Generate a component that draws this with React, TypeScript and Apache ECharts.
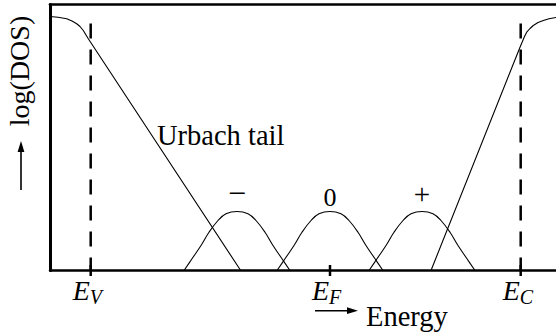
import React, { useEffect, useRef } from "react";
import * as echarts from "echarts";

// Energy axis in arbitrary units (0..506), log(DOS) axis in arbitrary units (0..266)
const energyMin = 0;
const energyMax = 506;
const logDosMin = 0;
const logDosMax = 266;

// Valence-band edge with its Urbach tail
const valenceEnergy = [0, 8, 16.7, 22, 26.7, 30, 33.3, 36, 38.3, 190.7];
const valenceLogDos = [254, 253.2, 251.7, 249.5, 246.7, 244, 240, 235.5, 231.7, 0];

// Conduction-band edge
const conductionEnergy = [381, 470, 472, 474.5, 476.7, 480, 483.3, 488, 493.3, 499, 506];
const conductionLogDos = [0, 223.3, 228, 234, 238.3, 242, 245, 248, 250, 251.7, 253];

// Defect levels in the gap: negative, neutral and positive charge states
const negEnergy = [134, 142, 151, 159, 168, 176, 187, 198, 206, 215, 223, 232, 240];
const negLogDos = [0, 11.7, 25, 38.3, 50, 56.7, 59, 56.7, 50, 38.3, 25, 11.7, 0];
const neutralEnergy = [227, 235, 244, 252, 261, 269, 280, 291, 299, 308, 316, 325, 333];
const neutralLogDos = [0, 11.7, 25, 38.3, 50, 56.7, 59, 56.7, 50, 38.3, 25, 11.7, 0];
const posEnergy = [319, 327, 336, 344, 353, 361, 372, 383, 391, 400, 408, 417, 425];
const posLogDos = [0, 11.7, 25, 38.3, 50, 56.7, 59, 56.7, 50, 38.3, 25, 11.7, 0];
const chargeLabels = ["\u2212", "0", "+"];

// Reference energies E_V, E_F, E_C
const levelEnergy = [40.7, 280, 470.7];
const levelSubscripts = ["V", "F", "C"];
const levelDashed = [true, false, true];
const levelDashTop = 247;

const SERIF = "Liberation Serif";
const INK = "#000";

function zip(xs: number[], ys: number[]) {
  return xs.map((x, i) => [x, ys[i]]);
}

function peakOf(xs: number[], ys: number[]) {
  const i = ys.indexOf(Math.max(...ys));
  return [xs[i], ys[i]];
}

export default function App() {
  const ref = useRef<HTMLDivElement>(null);

  useEffect(() => {
    if (!ref.current) return;
    const chart = echarts.init(ref.current, undefined, { renderer: "svg" });

    const curveStyle = { color: INK, width: 1.1 };
    const bumps = [
      { e: negEnergy, d: negLogDos },
      { e: neutralEnergy, d: neutralLogDos },
      { e: posEnergy, d: posLogDos },
    ];
    // pixel gap between each peak and the centre of its charge label, and label sizes
    const labelGap = [19, 14.5, 18];
    const labelSize = [32, 26, 29];

    const bumpSeries = bumps.map((b) => ({
      type: "line",
      data: zip(b.e, b.d),
      smooth: 0.4,
      symbol: "none",
      lineStyle: curveStyle,
      silent: true,
    }));

    chart.setOption({
      animation: false,
      backgroundColor: "#fff",
      grid: {
        left: 50,
        right: 0,
        top: 4.5,
        bottom: 64.5,
        containLabel: false,
        outerBoundsMode: "none",
      },
      xAxis: [
        {
          type: "value",
          min: energyMin,
          max: energyMax,
          axisLine: { show: true, onZero: false, lineStyle: { color: INK, width: 2.5 } },
          axisTick: { show: false },
          axisLabel: { show: false },
          splitLine: { show: false },
        },
        {
          type: "value",
          position: "top",
          min: energyMin,
          max: energyMax,
          axisLine: { show: true, onZero: false, lineStyle: { color: INK, width: 2.7 } },
          axisTick: { show: false },
          axisLabel: { show: false },
          splitLine: { show: false },
        },
      ],
      yAxis: {
        type: "value",
        min: logDosMin,
        max: logDosMax,
        axisLine: { show: true, onZero: false, lineStyle: { color: INK, width: 3 } },
        axisTick: { show: false },
        axisLabel: { show: false },
        splitLine: { show: false },
      },
      series: [
        {
          type: "line",
          data: zip(valenceEnergy, valenceLogDos),
          symbol: "none",
          lineStyle: curveStyle,
          silent: true,
        },
        {
          type: "line",
          data: zip(conductionEnergy, conductionLogDos),
          symbol: "none",
          lineStyle: curveStyle,
          silent: true,
        },
        ...bumpSeries,
        {
          // charge-state labels sitting over each defect peak
          type: "custom",
          clip: false,
          silent: true,
          data: bumps.map((b) => peakOf(b.e, b.d)),
          renderItem: (params: any, api: any) => {
            const i = params.dataIndex;
            const p = api.coord([api.value(0), api.value(1)]);
            return {
              type: "text",
              style: {
                text: chargeLabels[i],
                x: p[0],
                y: p[1] - labelGap[i],
                align: "center",
                verticalAlign: "middle",
                fontFamily: SERIF,
                fontSize: labelSize[i],
                fill: INK,
              },
            };
          },
        },
        {
          type: "custom",
          clip: false,
          silent: true,
          data: levelEnergy.map((e, i) => [e, i]),
          renderItem: (params: any, api: any) => {
            const i = params.dataIndex;
            const base = api.coord([api.value(0), 0]);
            const top = api.coord([api.value(0), levelDashTop]);
            const px = base[0];
            const children: any[] = [];
            if (levelDashed[i]) {
              children.push({
                type: "line",
                shape: { x1: px, y1: top[1], x2: px, y2: base[1] },
                style: { stroke: INK, lineWidth: 2.5, lineDash: [15, 11] },
              });
            }
            children.push({
              type: "line",
              shape: { x1: px, y1: base[1] - 5.5, x2: px, y2: base[1] + 5.5 },
              style: { stroke: INK, lineWidth: 2.5 },
            });
            children.push({
              type: "text",
              style: {
                text: "E",
                x: px - 18,
                y: base[1] + 20,
                align: "left",
                verticalAlign: "middle",
                fontFamily: SERIF,
                fontStyle: "italic",
                fontSize: 28,
                fill: INK,
              },
            });
            children.push({
              type: "text",
              style: {
                text: levelSubscripts[i],
                x: px - 1,
                y: base[1] + 26.5,
                align: "left",
                verticalAlign: "middle",
                fontFamily: SERIF,
                fontStyle: "italic",
                fontSize: 20,
                fill: INK,
              },
            });
            return { type: "group", children };
          },
        },
      ],
      graphic: [
        {
          type: "text",
          x: 157,
          y: 135,
          style: {
            text: "Urbach tail",
            fontFamily: SERIF,
            fontSize: 28.5,
            fill: INK,
            verticalAlign: "middle",
          },
        },
        {
          type: "line",
          shape: { x1: 315, y1: 310.7, x2: 350, y2: 310.7 },
          style: { stroke: INK, lineWidth: 1.6 },
        },
        {
          type: "polygon",
          shape: { points: [[358, 310.7], [347, 307.3], [347, 314.1]] },
          style: { fill: INK },
        },
        {
          type: "text",
          x: 366,
          y: 316.5,
          style: {
            text: "Energy",
            fontFamily: SERIF,
            fontSize: 28.5,
            fill: INK,
            verticalAlign: "middle",
          },
        },
        {
          type: "text",
          x: 19,
          y: 71,
          rotation: Math.PI / 2,
          style: {
            text: "log(DOS)",
            fontFamily: SERIF,
            fontSize: 28,
            fill: INK,
            align: "center",
            verticalAlign: "middle",
          },
        },
        {
          type: "line",
          shape: { x1: 21, y1: 190, x2: 21, y2: 150 },
          style: { stroke: INK, lineWidth: 1.6 },
        },
        {
          type: "polygon",
          shape: { points: [[21, 141], [17.6, 152], [24.4, 152]] },
          style: { fill: INK },
        },
      ],
    });

    return () => chart.dispose();
  }, []);

  return (
    <div
      ref={ref}
      style={{ position: "fixed", left: 0, top: 0, width: 556, height: 335 }}
    />
  );
}
